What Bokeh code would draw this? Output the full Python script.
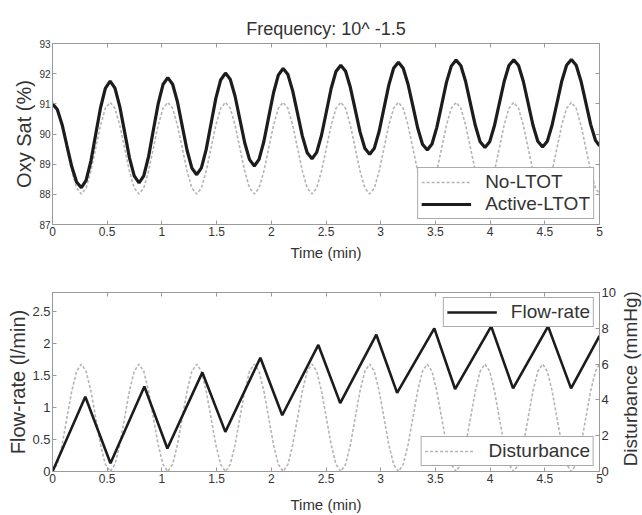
import math
from bokeh.plotting import figure
from bokeh.models import Range1d, LinearAxis, Legend, LegendItem, FixedTicker, Label
from bokeh.layouts import column, row
from bokeh.embed import file_html
from bokeh.resources import INLINE

# ---------------- data ----------------
title_text = "Frequency: 10^ -1.5"

time_min = [
    0.000, 0.044, 0.088, 0.132, 0.176, 0.220, 0.264, 0.307, 0.351, 0.395, 0.439, 0.483,
    0.527, 0.571, 0.615, 0.659, 0.703, 0.747, 0.791, 0.834, 0.878, 0.922, 0.966, 1.010,
    1.054, 1.098, 1.142, 1.186, 1.230, 1.274, 1.318, 1.361, 1.405, 1.449, 1.493, 1.537,
    1.581, 1.625, 1.669, 1.713, 1.757, 1.801, 1.845, 1.888, 1.932, 1.976, 2.020, 2.064,
    2.108, 2.152, 2.196, 2.240, 2.284, 2.328, 2.372, 2.415, 2.459, 2.503, 2.547, 2.591,
    2.635, 2.679, 2.723, 2.767, 2.811, 2.855, 2.899, 2.942, 2.986, 3.030, 3.074, 3.118,
    3.162, 3.206, 3.250, 3.294, 3.338, 3.382, 3.426, 3.469, 3.513, 3.557, 3.601, 3.645,
    3.689, 3.733, 3.777, 3.821, 3.865, 3.909, 3.953, 3.996, 4.040, 4.084, 4.128, 4.172,
    4.216, 4.260, 4.304, 4.348, 4.392, 4.436, 4.480, 4.523, 4.567, 4.611, 4.655, 4.699,
    4.743, 4.787, 4.831, 4.875, 4.919, 4.963, 5.000,
]

oxy_no_ltot = [
    91.05, 90.85, 90.29, 89.53, 88.77, 88.21, 88.01, 88.21, 88.77, 89.53, 90.29, 90.85,
    91.05, 90.85, 90.29, 89.53, 88.77, 88.21, 88.01, 88.21, 88.77, 89.53, 90.29, 90.85,
    91.05, 90.85, 90.29, 89.53, 88.77, 88.21, 88.01, 88.21, 88.77, 89.53, 90.29, 90.85,
    91.05, 90.85, 90.29, 89.53, 88.77, 88.21, 88.01, 88.21, 88.77, 89.53, 90.29, 90.85,
    91.05, 90.85, 90.29, 89.53, 88.77, 88.21, 88.01, 88.21, 88.77, 89.53, 90.29, 90.85,
    91.05, 90.85, 90.29, 89.53, 88.77, 88.21, 88.01, 88.21, 88.77, 89.53, 90.29, 90.85,
    91.05, 90.85, 90.29, 89.53, 88.77, 88.21, 88.01, 88.21, 88.77, 89.53, 90.29, 90.85,
    91.05, 90.85, 90.29, 89.53, 88.77, 88.21, 88.01, 88.21, 88.77, 89.53, 90.29, 90.85,
    91.05, 90.85, 90.29, 89.53, 88.77, 88.21, 88.01, 88.21, 88.77, 89.53, 90.29, 90.85,
    91.05, 90.85, 90.29, 89.53, 88.77, 88.21, 88.02,
]

oxy_active_ltot = [
    91.00, 90.81, 90.31, 89.61, 88.92, 88.41, 88.22, 88.46, 89.10, 89.99, 90.87, 91.51,
    91.75, 91.52, 90.91, 90.07, 89.22, 88.61, 88.38, 88.61, 89.25, 90.13, 91.00, 91.64,
    91.87, 91.65, 91.07, 90.26, 89.46, 88.87, 88.65, 88.88, 89.49, 90.34, 91.18, 91.79,
    92.02, 91.81, 91.25, 90.48, 89.71, 89.15, 88.94, 89.16, 89.75, 90.56, 91.36, 91.95,
    92.17, 91.97, 91.42, 90.68, 89.93, 89.38, 89.18, 89.39, 89.96, 90.73, 91.51, 92.07,
    92.28, 92.08, 91.54, 90.81, 90.07, 89.53, 89.33, 89.53, 90.09, 90.86, 91.62, 92.18,
    92.38, 92.18, 91.65, 90.93, 90.20, 89.66, 89.47, 89.67, 90.22, 90.96, 91.71, 92.25,
    92.45, 92.26, 91.73, 91.00, 90.28, 89.74, 89.55, 89.74, 90.28, 91.01, 91.73, 92.27,
    92.46, 92.27, 91.74, 91.02, 90.29, 89.76, 89.57, 89.76, 90.30, 91.02, 91.75, 92.28,
    92.47, 92.28, 91.75, 91.04, 90.32, 89.79, 89.61,
]

disturbance_mmhg = [
    0.00, 0.40, 1.50, 3.00, 4.50, 5.60, 6.00, 5.60, 4.50, 3.00, 1.50, 0.40,
    0.00, 0.40, 1.50, 3.00, 4.50, 5.60, 6.00, 5.60, 4.50, 3.00, 1.50, 0.40,
    0.00, 0.40, 1.50, 3.00, 4.50, 5.60, 6.00, 5.60, 4.50, 3.00, 1.50, 0.40,
    0.00, 0.40, 1.50, 3.00, 4.50, 5.60, 6.00, 5.60, 4.50, 3.00, 1.50, 0.40,
    0.00, 0.40, 1.50, 3.00, 4.50, 5.60, 6.00, 5.60, 4.50, 3.00, 1.50, 0.40,
    0.00, 0.40, 1.50, 3.00, 4.50, 5.60, 6.00, 5.60, 4.50, 3.00, 1.50, 0.40,
    0.00, 0.40, 1.50, 3.00, 4.50, 5.60, 6.00, 5.60, 4.50, 3.00, 1.50, 0.40,
    0.00, 0.40, 1.50, 3.00, 4.50, 5.60, 6.00, 5.60, 4.50, 3.00, 1.50, 0.40,
    0.00, 0.40, 1.50, 3.00, 4.50, 5.60, 6.00, 5.60, 4.50, 3.00, 1.50, 0.40,
    0.00, 0.40, 1.50, 3.00, 4.50, 5.60, 6.00,
]

flow_time_min = [0.00, 0.30, 0.53, 0.84, 1.05, 1.37, 1.58, 1.90, 2.10, 2.43, 2.63,
                 2.96, 3.15, 3.49, 3.68, 4.01, 4.21, 4.53, 4.74, 5.00]
flow_rate_lpm = [0.00, 1.17, 0.13, 1.33, 0.36, 1.55, 0.62, 1.78, 0.88, 1.98, 1.07,
                 2.14, 1.23, 2.24, 1.29, 2.27, 1.30, 2.27, 1.30, 2.12]

x_ticks = [0, 0.5, 1, 1.5, 2, 2.5, 3, 3.5, 4, 4.5, 5]
oxy_ticks = [87, 88, 89, 90, 91, 92, 93]
flow_ticks = [0, 0.5, 1, 1.5, 2, 2.5]
dist_ticks = [0, 2, 4, 6, 8, 10]
dist_axis_title = "Disturbance (mmHg)"

# ---------------- styling ----------------
FONT = "Liberation Sans"
TXT = "#333333"
FRAME = "#9a9a9a"
DARK = "#1c1c1c"
LIGHT = "#b4b4b4"


def style_axis(ax, tick_size, label_size="15px"):
    ax.axis_line_color = FRAME
    ax.major_tick_line_color = FRAME
    ax.major_tick_in = 4
    ax.major_tick_out = 0
    ax.minor_tick_line_color = None
    ax.major_label_text_font = FONT
    ax.major_label_text_font_size = tick_size
    ax.major_label_text_color = TXT
    ax.axis_label_text_font = FONT
    ax.axis_label_text_font_size = label_size
    ax.axis_label_text_font_style = "normal"
    ax.axis_label_text_color = TXT
    ax.major_label_standoff = 2
    ax.axis_label_standoff = 1


def blank_axis(ticks, **kw):
    ax = LinearAxis(ticker=FixedTicker(ticks=ticks), **kw)
    ax.axis_line_color = FRAME
    ax.major_tick_line_color = FRAME
    ax.major_tick_in = 4
    ax.major_tick_out = 0
    ax.minor_tick_line_color = None
    ax.major_label_text_font_size = "1px"
    ax.major_label_text_color = None
    ax.major_label_standoff = 0
    return ax


def style_legend(leg):
    leg.label_text_font = FONT
    leg.label_text_font_size = "19px"
    leg.label_text_line_height = 1.0
    leg.label_text_color = TXT
    leg.border_line_color = "#555555"
    leg.border_line_width = 1
    leg.background_fill_color = "white"
    leg.background_fill_alpha = 1.0
    leg.glyph_width = 50
    leg.glyph_height = 18
    leg.label_height = 18
    leg.label_standoff = 14
    leg.spacing = 0
    leg.padding = 3
    leg.margin = 5


# ---------------- top panel ----------------
p1 = figure(width=642, height=268, x_range=Range1d(0, 5), y_range=Range1d(87, 93),
            output_backend="svg", toolbar_location=None,
            min_border_left=52, min_border_right=43, min_border_top=43, min_border_bottom=44)
p1.title.text = title_text
p1.title.align = "center"
p1.title.text_font = FONT
p1.title.text_font_size = "18px"
p1.title.text_font_style = "normal"
p1.title.text_color = TXT
p1.title.standoff = 10
p1.grid.visible = False
p1.outline_line_color = FRAME
p1.background_fill_color = "white"

p1.xaxis.ticker = FixedTicker(ticks=x_ticks)
p1.yaxis.ticker = FixedTicker(ticks=oxy_ticks)
p1.xaxis.axis_label = "Time (min)"
p1.yaxis.axis_label = "Oxy Sat (%)"
style_axis(p1.xaxis[0], "12px", "15px")
style_axis(p1.yaxis[0], "10px", "20px")
p1.xaxis.axis_label_standoff = 5
p1.add_layout(blank_axis(oxy_ticks), "right")
p1.add_layout(blank_axis(x_ticks), "above")

r_no = p1.line(time_min, oxy_no_ltot, line_color=LIGHT, line_width=1.6, line_dash="3 2")
r_act = p1.line(time_min, oxy_active_ltot, line_color=DARK, line_width=3.2)

leg1 = Legend(items=[LegendItem(label="No-LTOT", renderers=[r_no]),
                     LegendItem(label="Active-LTOT", renderers=[r_act])],
              location="bottom_right")
style_legend(leg1)
p1.add_layout(leg1, "center")

# ---------------- bottom panel ----------------
p2 = figure(width=618, height=247, x_range=Range1d(0, 5), y_range=Range1d(0, 2.8),
            output_backend="svg", toolbar_location=None,
            min_border_left=52, min_border_right=19, min_border_top=24, min_border_bottom=43)
p2.extra_y_ranges = {"dist": Range1d(0, 10)}
p2.grid.visible = False
p2.outline_line_color = FRAME
p2.background_fill_color = "white"

p2.xaxis.ticker = FixedTicker(ticks=x_ticks)
p2.yaxis.ticker = FixedTicker(ticks=flow_ticks)
p2.xaxis.axis_label = "Time (min)"
p2.yaxis.axis_label = "Flow-rate (l/min)"
style_axis(p2.xaxis[0], "12px", "15px")
style_axis(p2.yaxis[0], "13px", "20px")
p2.xaxis.axis_label_standoff = 10
p2.yaxis.axis_label_standoff = 0

rax = LinearAxis(y_range_name="dist", ticker=FixedTicker(ticks=dist_ticks))
style_axis(rax, "13px", "20px")
p2.add_layout(rax, "right")
p2.add_layout(blank_axis(x_ticks), "above")

r_dist = p2.line(time_min, disturbance_mmhg, y_range_name="dist",
                 line_color=LIGHT, line_width=1.6, line_dash="3 2")
r_flow = p2.line(flow_time_min, flow_rate_lpm, line_color=DARK, line_width=2.6)

leg_flow = Legend(items=[LegendItem(label="Flow-rate", renderers=[r_flow])], location="top_right")
style_legend(leg_flow)
p2.add_layout(leg_flow, "center")
leg_dist = Legend(items=[LegendItem(label="Disturbance", renderers=[r_dist])], location="bottom_right")
style_legend(leg_dist)
p2.add_layout(leg_dist, "center")

# narrow strip carrying the right-axis title, reading bottom-to-top
p3 = figure(width=24, height=247, x_range=Range1d(0, 24), y_range=Range1d(0, 247),
            output_backend="svg", toolbar_location=None,
            x_axis_type=None, y_axis_type=None,
            min_border_left=0, min_border_right=0, min_border_top=0, min_border_bottom=0)
p3.grid.visible = False
p3.outline_line_color = None
p3.background_fill_color = "white"
p3.add_layout(Label(text=dist_axis_title, x=12, y=128, angle=math.pi / 2,
                    text_align="center", text_baseline="middle",
                    text_font=FONT, text_font_size="19px", text_color=TXT))

layout = column(p1, row(p2, p3, spacing=0), spacing=0)
open("out.html", "w").write(file_html(layout, INLINE))
